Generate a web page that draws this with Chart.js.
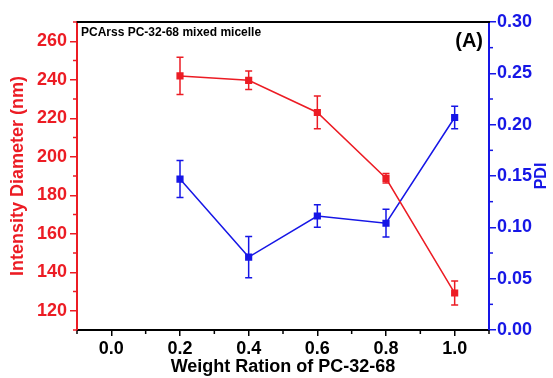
<!DOCTYPE html>
<html>
<head>
<meta charset="utf-8">
<script src="https://cdn.jsdelivr.net/npm/chart.js@4.4.1/dist/chart.umd.min.js"></script>
<style>
html,body{margin:0;padding:0;background:#fff;}
#wrap{width:553px;height:378px;}
</style>
</head>
<body>
<div id="wrap"><canvas id="c" width="553" height="378"></canvas></div>
<script>
const weightRatio = [0.2, 0.4, 0.6, 0.8, 1.0];
const diameter = [242, 239.7, 223, 188.8, 129.2];
const diameterErr = [9.7, 4.8, 8.5, 2.5, 6.2];
const pdi = [0.147, 0.071, 0.111, 0.104, 0.207];
const pdiErr = [0.018, 0.020, 0.011, 0.0135, 0.011];
const xTicks = [0.0, 0.2, 0.4, 0.6, 0.8, 1.0];
const xMinorTicks = [-0.1, 0.1, 0.3, 0.5, 0.7, 0.9, 1.1];
const yLeftTicks = [120, 140, 160, 180, 200, 220, 240, 260];
const yLeftMinor = [110, 130, 150, 170, 190, 210, 230, 250, 270];
const yRightTicks = [0.00, 0.05, 0.10, 0.15, 0.20, 0.25, 0.30];
const yRightMinor = [0.025, 0.075, 0.125, 0.175, 0.225, 0.275];

const RED = 'rgb(236,28,36)';
const BLUE = 'rgb(22,22,230)';
const FONT = '"Liberation Sans", Arial, sans-serif';

const setTicks = arr => scale => { scale.ticks = arr.map(v => ({value: v})); };

const extras = {
  id: 'extras',
  afterDatasetsDraw(chart) {
    const ctx = chart.ctx;
    const xs = chart.scales.x, yl = chart.scales.y, yr = chart.scales.y1;
    const ca = chart.chartArea;
    ctx.save();
    // error bars
    const drawErr = (vals, errs, scale, color) => {
      ctx.strokeStyle = color; ctx.lineWidth = 1.5;
      vals.forEach((v, i) => {
        const px = xs.getPixelForValue(weightRatio[i]);
        const t = scale.getPixelForValue(v + errs[i]);
        const b = scale.getPixelForValue(v - errs[i]);
        ctx.beginPath();
        ctx.moveTo(px, t); ctx.lineTo(px, b);
        ctx.moveTo(px - 3.5, t); ctx.lineTo(px + 3.5, t);
        ctx.moveTo(px - 3.5, b); ctx.lineTo(px + 3.5, b);
        ctx.stroke();
      });
    };
    drawErr(diameter, diameterErr, yl, RED);
    drawErr(pdi, pdiErr, yr, BLUE);
    // top border
    ctx.strokeStyle = '#000'; ctx.lineWidth = 2;
    ctx.beginPath(); ctx.moveTo(ca.left - 1, ca.top); ctx.lineTo(ca.right + 1, ca.top); ctx.stroke();
    // minor ticks
    ctx.lineWidth = 1.5;
    ctx.strokeStyle = '#000';
    xMinorTicks.forEach(v => { const p = xs.getPixelForValue(v); ctx.beginPath(); ctx.moveTo(p, ca.bottom); ctx.lineTo(p, ca.bottom + 4); ctx.stroke(); });
    ctx.strokeStyle = RED;
    yLeftMinor.forEach(v => { const p = yl.getPixelForValue(v); ctx.beginPath(); ctx.moveTo(ca.left, p); ctx.lineTo(ca.left - 4, p); ctx.stroke(); });
    ctx.strokeStyle = BLUE;
    yRightMinor.forEach(v => { const p = yr.getPixelForValue(v); ctx.beginPath(); ctx.moveTo(ca.right, p); ctx.lineTo(ca.right + 4, p); ctx.stroke(); });
    // annotations
    ctx.fillStyle = '#000';
    ctx.textBaseline = 'middle';
    ctx.textAlign = 'left';
    ctx.font = 'bold 12px ' + FONT;
    ctx.fillText('PCArss PC-32-68 mixed micelle', ca.left + 4, ca.top + 11);
    ctx.textAlign = 'right';
    ctx.font = 'bold 20px ' + FONT;
    ctx.fillText('(A)', ca.right - 6, ca.top + 19);
    // right axis title, reading bottom to top
    ctx.save();
    ctx.translate(542, (ca.top + ca.bottom) / 2);
    ctx.rotate(-Math.PI / 2);
    ctx.textAlign = 'center';
    ctx.fillStyle = BLUE;
    ctx.font = 'bold 16px ' + FONT;
    ctx.fillText('PDI', 0, 0);
    ctx.restore();
    ctx.restore();
  }
};

new Chart(document.getElementById('c'), {
  type: 'scatter',
  data: {
    datasets: [
      {
        label: 'Intensity Diameter',
        data: weightRatio.map((x, i) => ({x, y: diameter[i]})),
        yAxisID: 'y',
        showLine: true,
        borderColor: RED, backgroundColor: RED,
        borderWidth: 1.5,
        pointStyle: 'rect', pointRadius: 4, pointHoverRadius: 4,
      },
      {
        label: 'PDI',
        data: weightRatio.map((x, i) => ({x, y: pdi[i]})),
        yAxisID: 'y1',
        showLine: true,
        borderColor: BLUE, backgroundColor: BLUE,
        borderWidth: 1.5,
        pointStyle: 'rect', pointRadius: 4, pointHoverRadius: 4,
      }
    ]
  },
  options: {
    responsive: false,
    animation: false,
    layout: {padding: {top: 22, left: 0, right: 0, bottom: 0}},
    plugins: {legend: {display: false}, tooltip: {enabled: false}},
    scales: {
      x: {
        type: 'linear', min: -0.1, max: 1.1,
        afterBuildTicks: setTicks(xTicks),
        afterFit: s => { s.height = 48; },
        border: {display: true, color: '#000', width: 2},
        grid: {display: true, drawOnChartArea: false, drawTicks: true, tickLength: 6, color: '#000', lineWidth: 1.5},
        ticks: {color: '#000', padding: 2, font: {family: FONT, size: 18, weight: 'bold'}, callback: v => Number(v).toFixed(1), maxRotation: 0},
        title: {display: true, text: 'Weight Ration of PC-32-68', color: '#000', font: {family: FONT, size: 18, weight: 'bold'}, padding: {top: 0, bottom: 0}}
      },
      y: {
        type: 'linear', position: 'left', min: 110, max: 270,
        afterBuildTicks: setTicks(yLeftTicks),
        afterFit: s => { s.width = 77; },
        border: {display: true, color: RED, width: 2},
        grid: {display: true, drawOnChartArea: false, drawTicks: true, tickLength: 7, color: RED, lineWidth: 1.5},
        ticks: {color: RED, padding: 3, font: {family: FONT, size: 18, weight: 'bold'}},
        title: {display: true, text: 'Intensity Diameter (nm)', color: RED, font: {family: FONT, size: 18, weight: 'bold'}, padding: {top: 7, bottom: 0}}
      },
      y1: {
        type: 'linear', position: 'right', min: 0, max: 0.30,
        afterBuildTicks: setTicks(yRightTicks),
        afterFit: s => { s.width = 64; },
        border: {display: true, color: BLUE, width: 2},
        grid: {display: true, drawOnChartArea: false, drawTicks: true, tickLength: 7, color: BLUE, lineWidth: 1.5},
        ticks: {color: BLUE, padding: 1, font: {family: FONT, size: 18, weight: 'bold'}, callback: v => Number(v).toFixed(2)},
        title: {display: false}
      }
    }
  },
  plugins: [extras]
});
</script>
</body>
</html>
